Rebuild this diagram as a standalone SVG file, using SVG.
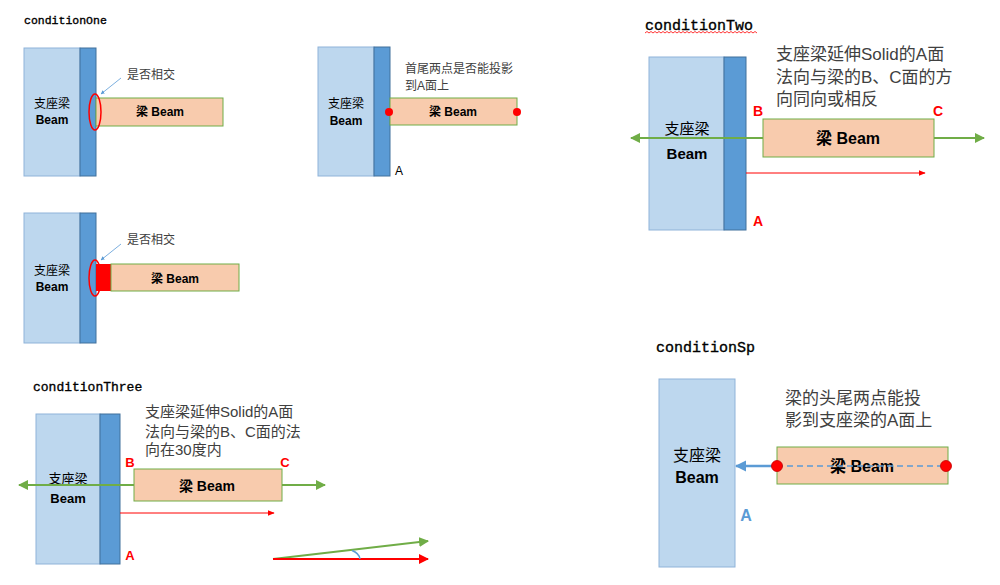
<svg xmlns="http://www.w3.org/2000/svg" width="1000" height="585" viewBox="0 0 1000 585">
<defs>
<style>
.sup{fill:#BDD7EE;stroke:#8FB3D9;stroke-width:1}
.strip{fill:#5B9BD5;stroke:#41719C;stroke-width:1}
.beam{fill:#F8CBAD;stroke:#70AD47;stroke-width:1}
.t{font-family:"Liberation Sans","Noto Sans CJK SC",sans-serif;fill:#000;text-anchor:middle}
.cj{font-family:"Noto Sans CJK SC","Liberation Sans",sans-serif;fill:#000;text-anchor:middle}
.b{font-weight:bold}
.title{font-family:"Liberation Mono","DejaVu Sans Mono",monospace;fill:#000;stroke:#000;stroke-width:0.35}
.note{font-family:"Liberation Sans","Noto Sans CJK SC",sans-serif;fill:#404040}
.lbl{font-family:"Liberation Sans",sans-serif;font-weight:bold;fill:#FF0000}
.green{stroke:#70AD47;stroke-width:2;fill:none}
.redl{stroke:#FF0000;stroke-width:1;fill:none}
</style>
<marker id="ag" viewBox="0 0 10 10" refX="9" refY="5" markerWidth="5" markerHeight="5" orient="auto-start-reverse"><path d="M0,0 L10,5 L0,10 z" fill="#70AD47"/></marker>
<marker id="ar" viewBox="0 0 10 10" refX="9" refY="5" markerWidth="7" markerHeight="7" orient="auto"><path d="M0,1 L10,5 L0,9 z" fill="#FF0000"/></marker>
<marker id="ar2" viewBox="0 0 10 10" refX="9" refY="5" markerWidth="5" markerHeight="5" orient="auto"><path d="M0,0 L10,5 L0,10 z" fill="#FF0000"/></marker>
<marker id="ab" viewBox="0 0 10 10" refX="9" refY="5" markerWidth="5" markerHeight="5" orient="auto"><path d="M0,0 L10,5 L0,10 z" fill="#5B9BD5"/></marker>
<marker id="ab2" viewBox="0 0 10 10" refX="9" refY="5" markerWidth="4.5" markerHeight="4.5" orient="auto"><path d="M0,0 L10,5 L0,10 z" fill="#5B9BD5"/></marker>
</defs>

<!-- conditionOne panel A -->
<g id="title-one"><text class="title" x="24" y="24" font-size="11.5">conditionOne</text></g>
<g id="support1">
<rect class="sup" x="24" y="48" width="56" height="128"/>
<rect class="strip" x="80" y="48" width="16" height="128"/>
<text class="cj" x="52" y="108" font-size="12">支座梁</text>
<text class="t b" x="52" y="124" font-size="12">Beam</text>
</g>
<g id="beam1">
<rect class="beam" x="96" y="98" width="127" height="28"/>
<text class="t b" x="160" y="116" font-size="12">梁 Beam</text>
</g>
<g id="note1">
<ellipse cx="95" cy="112" rx="6" ry="18" fill="none" stroke="#FF0000" stroke-width="1.5"/>
<text class="note" x="127" y="79" font-size="12">是否相交</text>
</g>

<!-- conditionOne panel B -->
<g id="support2">
<rect class="sup" x="318" y="47" width="56" height="129"/>
<rect class="strip" x="374" y="47" width="16" height="129"/>
<text class="cj" x="346" y="108" font-size="12">支座梁</text>
<text class="t b" x="346" y="125" font-size="12">Beam</text>
<text class="t" x="399" y="175" font-size="12">A</text>
</g>
<g id="beam2">
<rect class="beam" x="390" y="98" width="127" height="27"/>
<text class="t b" x="453" y="116" font-size="12">梁 Beam</text>
<circle cx="389" cy="112" r="4" fill="#FF0000"/>
<circle cx="517" cy="112" r="4" fill="#FF0000"/>
</g>
<g id="note2">
<text class="note" x="405" y="73" font-size="12">首尾两点是否能投影</text>
<text class="note" x="405" y="90" font-size="12">到A面上</text>
</g>

<!-- conditionOne panel C -->
<g id="support3">
<rect class="sup" x="24" y="213" width="56" height="130"/>
<rect class="strip" x="80" y="213" width="16" height="130"/>
<text class="cj" x="52" y="275" font-size="12">支座梁</text>
<text class="t b" x="52" y="291" font-size="12">Beam</text>
</g>
<g id="beam3">
<rect x="96" y="264" width="15" height="27" fill="#FF0000"/>
<rect class="beam" x="111" y="264" width="128" height="27"/>
<text class="t b" x="175" y="283" font-size="12">梁 Beam</text>
</g>
<g id="note3">
<ellipse cx="95" cy="278" rx="6" ry="18" fill="none" stroke="#FF0000" stroke-width="1.5"/>
<text class="note" x="127" y="244" font-size="12">是否相交</text>
</g>

<!-- conditionTwo -->
<g id="title-two">
<text class="title" x="645" y="30" font-size="15">conditionTwo</text>
<path d="M645,33 l2,-1.5 l2,1.5 l2,-1.5 l2,1.5 l2,-1.5 l2,1.5 l2,-1.5 l2,1.5 l2,-1.5 l2,1.5 l2,-1.5 l2,1.5 l2,-1.5 l2,1.5 l2,-1.5 l2,1.5 l2,-1.5 l2,1.5 l2,-1.5 l2,1.5 l2,-1.5 l2,1.5 l2,-1.5 l2,1.5 l2,-1.5 l2,1.5 l2,-1.5 l2,1.5 l2,-1.5 l2,1.5 l2,-1.5 l2,1.5 l2,-1.5 l2,1.5 l2,-1.5 l2,1.5 l2,-1.5 l2,1.5 l2,-1.5 l2,1.5 l2,-1.5 l2,1.5 l2,-1.5 l2,1.5 l2,-1.5 l2,1.5 l2,-1.5 l2,1.5 l2,-1.5 l2,1.5 l2,-1.5 l2,1.5 l2,-1.5 l2,1.5 l2,-1.5 l2,1.5" fill="none" stroke="#FF0000" stroke-width="0.8"/>
</g>
<g id="support4">
<rect class="sup" x="649" y="57" width="75" height="173"/>
<rect class="strip" x="724" y="57" width="22" height="173"/>
<text class="cj" x="687" y="134" font-size="15">支座梁</text>
<text class="t b" x="687" y="159" font-size="15">Beam</text>
</g>
<g id="note4">
<text class="note" x="776" y="60" font-size="17">支座梁延伸Solid的A面</text>
<text class="note" x="776" y="83" font-size="17">法向与梁的B、C面的方</text>
<text class="note" x="776" y="105" font-size="17">向同向或相反</text>
<text class="lbl" x="758" y="116" font-size="14" text-anchor="middle">B</text>
<text class="lbl" x="938" y="116" font-size="14" text-anchor="middle">C</text>
<text class="lbl" x="758" y="226" font-size="14" text-anchor="middle">A</text>
</g>

<!-- conditionThree -->
<g id="title-three"><text class="title" x="33" y="391" font-size="13">conditionThree</text></g>
<g id="support5">
<rect class="sup" x="36" y="414" width="64" height="150"/>
<rect class="strip" x="100" y="414" width="20" height="150"/>
<text class="cj" x="68" y="483" font-size="13">支座梁</text>
<text class="t b" x="68" y="503" font-size="13">Beam</text>
</g>
<g id="note5">
<text class="note" x="145" y="417" font-size="15">支座梁延伸Solid的A面</text>
<text class="note" x="145" y="437" font-size="15">法向与梁的B、C面的法</text>
<text class="note" x="145" y="455" font-size="15">向在30度内</text>
<text class="lbl" x="130" y="467" font-size="13" text-anchor="middle">B</text>
<text class="lbl" x="285" y="467" font-size="13" text-anchor="middle">C</text>
<text class="lbl" x="130" y="560" font-size="13" text-anchor="middle">A</text>
</g>

<!-- conditionSp -->
<g id="title-sp"><text class="title" x="656" y="352" font-size="15">conditionSp</text></g>
<g id="support6">
<rect class="sup" x="659" y="379" width="76" height="188"/>
<text class="cj" x="697" y="461" font-size="16">支座梁</text>
<text class="t b" x="697" y="483" font-size="16">Beam</text>
</g>
<g id="note6">
<text class="note" x="785" y="404" font-size="17">梁的头尾两点能投</text>
<text class="note" x="785" y="426" font-size="17">影到支座梁的A面上</text>
<text x="746" y="521" font-size="16" font-family="Liberation Sans,sans-serif" font-weight="bold" fill="#5B9BD5" text-anchor="middle">A</text>
</g>

<!-- connectors -->
<g id="connectors">
<line x1="121" y1="78" x2="101" y2="94" stroke="#5B9BD5" stroke-width="0.8" marker-end="url(#ab)"/>
<line x1="121" y1="244" x2="101" y2="260" stroke="#5B9BD5" stroke-width="0.8" marker-end="url(#ab)"/>
<line class="green" x1="631" y1="138" x2="984" y2="138" marker-start="url(#ag)" marker-end="url(#ag)"/>
<line class="redl" x1="746" y1="173" x2="925" y2="173" marker-end="url(#ar)"/>
<line class="green" x1="19" y1="485" x2="325" y2="485" marker-start="url(#ag)" marker-end="url(#ag)"/>
<line class="redl" x1="120" y1="513" x2="274" y2="513" marker-end="url(#ar)"/>
<line x1="273" y1="559" x2="428" y2="541" stroke="#70AD47" stroke-width="2" marker-end="url(#ag)"/>
<line x1="273" y1="559" x2="428" y2="559" stroke="#FF0000" stroke-width="2" marker-end="url(#ar2)"/>
<path d="M352,550.5 Q359,553 360,559" fill="none" stroke="#5B9BD5" stroke-width="1.5"/>
<line x1="776" y1="466" x2="736" y2="466" stroke="#5B9BD5" stroke-width="2.5" marker-end="url(#ab2)"/>
</g>

<!-- beams drawn over green lines -->
<g id="beam4">
<rect class="beam" x="763" y="119" width="171" height="38"/>
<text class="t b" x="848" y="144" font-size="16">梁 Beam</text>
</g>
<g id="beam5">
<rect class="beam" x="134" y="469" width="148" height="32"/>
<text class="t b" x="207" y="491" font-size="14">梁 Beam</text>
</g>
<g id="beam6">
<rect class="beam" x="777" y="447" width="171" height="37"/>
<text class="t b" x="862" y="472" font-size="16">梁 Beam</text>
<line x1="777" y1="466" x2="946" y2="466" stroke="#5B9BD5" stroke-width="1.5" stroke-dasharray="6,4"/>
<circle cx="777" cy="466" r="5.5" fill="#FF0000" stroke="#C00000" stroke-width="0.8"/>
<circle cx="946" cy="466" r="5.5" fill="#FF0000" stroke="#C00000" stroke-width="0.8"/>
</g>
</svg>
